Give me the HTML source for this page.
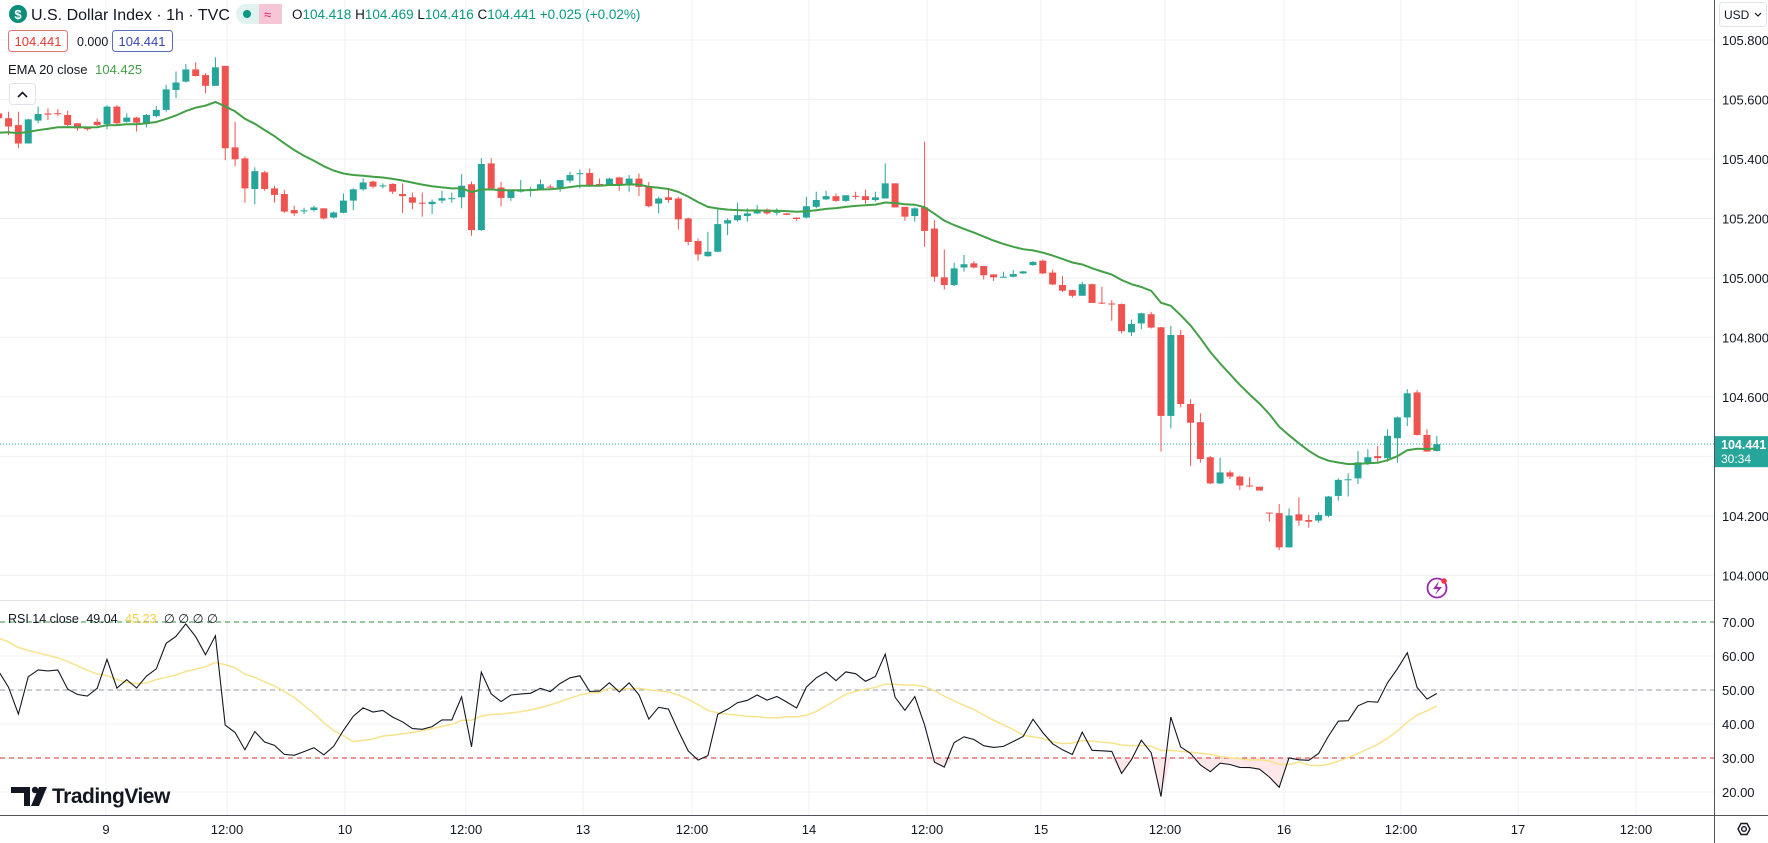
<!DOCTYPE html>
<html><head><meta charset="utf-8">
<style>
html,body{margin:0;padding:0;background:#fff;width:1768px;height:843px;overflow:hidden}
svg{display:block;font-family:"Liberation Sans",sans-serif}
</style></head>
<body>
<svg id="chart" width="1768" height="843" viewBox="0 0 1768 843" xmlns="http://www.w3.org/2000/svg">
  <rect x="0" y="0" width="1768" height="843" fill="#ffffff"/>
  <g id="grid"></g>
  <g id="rsiPane"></g>
  <g id="pricePane"></g>
  <g id="axes"></g>
  <g>
    <circle cx="18" cy="14" r="9" fill="#0b8d79"/>
    <text x="18" y="19" font-size="13" font-weight="bold" fill="#fff" text-anchor="middle">$</text>
    <text x="31" y="20" font-size="16" fill="#131722">U.S. Dollar Index · 1h · TVC</text>
    <rect x="236" y="4" width="46" height="20" rx="10" fill="#e0f3f0"/>
    <rect x="259" y="4" width="23" height="20" rx="0" fill="#f7c6d6"/>
    <rect x="270" y="4" width="12" height="20" rx="10" fill="#f7c6d6"/>
    <circle cx="247" cy="14" r="4" fill="#089981"/>
    <text x="264" y="19" font-size="13" fill="#d81b60">≈</text>
    <text x="292" y="19" font-size="13.5" fill="#131722">O<tspan fill="#089981">104.418</tspan> H<tspan fill="#089981">104.469</tspan> L<tspan fill="#089981">104.416</tspan> C<tspan fill="#089981">104.441</tspan> <tspan fill="#089981">+0.025 (+0.02%)</tspan></text>
    <rect x="8.5" y="30.5" width="59" height="21" rx="3" fill="#fff" stroke="#e57373"/>
    <text x="38" y="46" font-size="13" fill="#e53935" text-anchor="middle">104.441</text>
    <text x="77" y="46" font-size="12.5" fill="#131722">0.000</text>
    <rect x="112.5" y="30.5" width="60" height="21" rx="3" fill="#fff" stroke="#5c6bc0"/>
    <text x="142" y="46" font-size="13" fill="#3949ab" text-anchor="middle">104.441</text>
    <text x="8" y="74" font-size="13" fill="#131722">EMA 20 close <tspan fill="#43a047" dx="4">104.425</tspan></text>
    <rect x="9.5" y="83.5" width="26" height="21" rx="3" fill="#fff" stroke="#e0e3eb"/>
    <path d="M18 97 L22.5 92.5 L27 97" fill="none" stroke="#131722" stroke-width="1.6"/>
  </g>
  <rect x="1719.5" y="2.5" width="47" height="24" rx="3" fill="#fff" stroke="#e0e3eb"/>
  <text x="1724" y="19" font-size="12" fill="#131722">USD</text>
  <path d="M1755 13 L1758 16 L1761 13" fill="none" stroke="#131722" stroke-width="1.2"/>
  <g>
    <path d="M11 787 H30 V806 H24 V793 H11 Z" fill="#131722"/>
    <circle cx="35" cy="790" r="3.2" fill="#131722"/>
    <path d="M39 787 H47 L39 806 H31 Z" fill="#131722"/>
    <text x="52" y="803" font-size="21" font-weight="bold" fill="#131722" letter-spacing="-0.5">TradingView</text>
  </g>
  <g>
    <circle cx="1437" cy="588" r="9.5" fill="none" stroke="#9c27b0" stroke-width="1.8"/>
    <path d="M1439 581 L1433 589 H1438 L1435 595 L1442 587 H1437 Z" fill="#9c27b0"/>
    <circle cx="1444" cy="581" r="2.8" fill="#f23645"/>
  </g>
  <g>
    <path d="M1738 829 L1741 823.5 H1747 L1750 829 L1747 834.5 H1741 Z" fill="none" stroke="#131722" stroke-width="1.4"/>
    <circle cx="1744" cy="829" r="2.3" fill="none" stroke="#131722" stroke-width="1.4"/>
  </g>
</svg>
<script>
const opens=[105.553,105.537,105.514,105.452,105.529,105.553,105.554,105.548,105.520,105.506,
105.525,105.517,105.576,105.525,105.539,105.520,105.544,105.565,105.632,105.660,
105.701,105.682,105.646,105.713,105.439,105.402,105.299,105.355,105.301,105.282,
105.228,105.225,105.228,105.234,105.203,105.219,105.260,105.298,105.324,105.309,
105.316,105.282,105.271,105.253,105.248,105.260,105.266,105.271,105.315,105.161,
105.385,105.304,105.269,105.290,105.297,105.297,105.307,105.304,105.327,105.350,
105.353,105.316,105.312,105.338,105.315,105.334,105.309,105.250,105.271,105.267,
105.200,105.124,105.073,105.088,105.183,105.194,105.208,105.217,105.230,105.219,
105.217,105.203,105.203,105.239,105.264,105.275,105.259,105.276,105.275,105.262,
105.267,105.318,105.239,105.208,105.237,105.166,105.002,104.976,105.035,105.049,
105.040,105.012,105.003,105.004,105.015,105.043,105.058,105.018,104.976,104.959,
104.940,104.979,104.917,104.914,104.912,104.817,104.847,104.878,104.834,104.536,
104.808,104.576,104.515,104.397,104.309,104.346,104.332,104.302,104.298,104.211,
104.209,104.094,104.205,104.186,104.184,104.200,104.267,104.321,104.326,104.377,
104.401,104.394,104.461,104.531,104.615,104.472,104.418];
const highs=[105.559,105.559,105.559,105.535,105.576,105.570,105.568,105.562,105.520,105.508,
105.536,105.581,105.581,105.553,105.542,105.551,105.578,105.649,105.694,105.719,
105.725,105.688,105.742,105.713,105.525,105.408,105.372,105.360,105.310,105.296,
105.242,105.236,105.243,105.234,105.223,105.284,105.301,105.335,105.327,105.318,
105.318,105.318,105.287,105.287,105.264,105.293,105.287,105.349,105.324,105.402,
105.402,105.323,105.297,105.329,105.306,105.331,105.314,105.329,105.357,105.365,
105.368,105.334,105.337,105.340,105.346,105.351,105.323,105.273,105.297,105.273,
105.203,105.133,105.155,105.234,105.200,105.253,105.234,105.245,105.234,105.234,
105.218,105.203,105.273,105.290,105.293,105.284,105.278,105.290,105.297,105.290,
105.385,105.318,105.239,105.237,105.458,105.194,105.096,105.051,105.077,105.056,
105.040,105.012,105.021,105.026,105.023,105.056,105.062,105.028,105.006,104.961,
104.987,104.981,104.970,104.925,104.914,104.860,104.883,104.886,104.836,104.839,
104.825,104.592,104.545,104.401,104.396,104.352,104.335,104.330,104.298,104.211,
104.240,104.225,104.262,104.203,104.212,104.267,104.326,104.343,104.418,104.424,
104.435,104.491,104.534,104.626,104.623,104.491,104.469];
const lows=[105.531,105.480,105.436,105.452,105.520,105.531,105.544,105.511,105.495,105.495,
105.511,105.500,105.514,105.522,105.492,105.506,105.540,105.559,105.604,105.657,
105.677,105.621,105.646,105.396,105.376,105.253,105.247,105.293,105.253,105.219,
105.209,105.215,105.223,105.197,105.200,105.217,105.228,105.293,105.301,105.301,
105.282,105.219,105.231,105.206,105.215,105.251,105.253,105.234,105.142,105.158,
105.297,105.241,105.259,105.287,105.273,105.295,105.297,105.290,105.320,105.301,
105.306,105.309,105.309,105.293,105.290,105.275,105.237,105.217,105.253,105.163,
105.110,105.058,105.071,105.086,105.144,105.189,105.189,105.214,105.213,105.210,
105.211,105.192,105.200,105.234,105.262,105.256,105.256,105.264,105.250,105.256,
105.267,105.237,105.192,105.189,105.105,104.987,104.961,104.972,105.021,105.032,
104.995,104.990,105.002,105.002,105.014,105.041,105.013,104.976,104.953,104.934,
104.940,104.916,104.912,104.856,104.813,104.805,104.827,104.830,104.416,104.494,
104.565,104.368,104.379,104.307,104.307,104.324,104.287,104.296,104.285,104.181,
104.085,104.094,104.167,104.160,104.177,104.195,104.251,104.265,104.307,104.371,
104.377,104.382,104.379,104.502,104.470,104.416,104.416];
const closes=[105.537,105.509,105.452,105.533,105.551,105.549,105.551,105.514,105.503,105.500,
105.514,105.576,105.520,105.539,105.522,105.548,105.565,105.634,105.657,105.701,
105.679,105.646,105.708,105.436,105.399,105.301,105.359,105.299,105.279,105.223,
105.217,105.227,105.237,105.200,105.220,105.260,105.298,105.321,105.307,105.311,
105.290,105.275,105.253,105.251,105.256,105.268,105.268,105.310,105.161,105.383,
105.301,105.269,105.293,105.297,105.299,105.315,105.305,105.329,105.346,105.352,
105.312,105.313,105.334,105.312,105.334,105.306,105.241,105.267,105.262,105.197,
105.121,105.079,105.088,105.181,105.194,105.211,105.217,105.230,105.217,105.225,
105.212,105.198,105.241,105.262,105.275,105.259,105.278,105.275,105.262,105.271,
105.318,105.237,105.206,105.234,105.158,105.004,104.976,105.032,105.046,105.035,
105.009,105.002,105.004,105.013,105.022,105.054,105.015,104.978,104.957,104.940,
104.979,104.916,104.914,104.912,104.821,104.845,104.881,104.833,104.536,104.808,
104.576,104.513,104.391,104.309,104.346,104.332,104.302,104.300,104.285,104.210,
104.094,104.201,104.184,104.180,104.203,104.265,104.321,104.323,104.380,104.397,
104.394,104.469,104.531,104.612,104.472,104.416,104.441];
const emaSeed=105.483;
const rsiSeedGain=0.014, rsiSeedLoss=0.010, rsiMaSeed=66;
const rsiLegendValues=["49.04","45.23"];
const priceTicks=[105.8,105.6,105.4,105.2,105.0,104.8,104.6,104.4,104.2,104.0];
const priceTickLabels=["105.800","105.600","105.400","105.200","105.000","104.800","104.600","104.400","104.200","104.000"];
const rsiTicks=[70,60,50,40,30,20];
const rsiTickLabels=["70.00","60.00","50.00","40.00","30.00","20.00"];
const timeLabels=["9","12:00","10","12:00","13","12:00","14","12:00","15","12:00","16","12:00","17","12:00"];
const lastPrice=104.441, lastPriceLabel="104.441", countdown="30:34";

const NS="http://www.w3.org/2000/svg";
const PANE_R=1714;
function xOf(i){return -1.3+i*9.85;}
function yP(p){return 40+(105.8-p)*297.4;}
function yR(v){return 622+(70-v)*3.4;}
function mk(tag,attrs,parent){const e=document.createElementNS(NS,tag);for(const k in attrs)e.setAttribute(k,attrs[k]);parent.appendChild(e);return e;}
const grid=document.getElementById('grid'),pp=document.getElementById('pricePane'),rp=document.getElementById('rsiPane'),ax=document.getElementById('axes');

const timeXs=[106,227,345,466,583,692,809,927,1041,1165,1284,1401,1518,1636];
timeLabels.forEach((t,k)=>{
  const x=timeXs[k];
  const l=mk('line',{x1:x,x2:x,y1:0,y2:815,stroke:'#eef0f3','stroke-width':1},grid);
  
  
  const tx=mk('text',{x:x,y:834,'font-size':13,fill:'#131722','text-anchor':'middle'},ax);
  tx.textContent=t;
  
  
});
priceTicks.forEach((p,k)=>{
  const y=yP(p);
  const l=mk('line',{x1:0,x2:PANE_R,y1:y,y2:y,stroke:'#eef0f3','stroke-width':1},grid);
  
  
  const tx=mk('text',{x:1722,y:y+5,'font-size':13,fill:'#131722'},ax);
  tx.textContent=priceTickLabels[k];
  
  
});
rsiTicks.forEach((v,k)=>{
  const y=yR(v);
  const l=mk('line',{x1:0,x2:PANE_R,y1:y,y2:y,stroke:'#eef0f3','stroke-width':1},grid);
  
  
  const tx=mk('text',{x:1722,y:y+5,'font-size':13,fill:'#131722'},ax);
  tx.textContent=rsiTickLabels[k];
  
  
});
[[70,'#388e3c'],[50,'#9598a1'],[30,'#d32f2f']].forEach(([v,c])=>{
  const l=mk('line',{x1:0,x2:PANE_R,y1:yR(v),y2:yR(v),stroke:c,'stroke-width':1,'stroke-dasharray':'5,4'},rp);
  
  
});

for(let i=0;i<closes.length;i++){
  const up=closes[i]>=opens[i];
  const col=up?'#26a69a':'#ef5350';
  const x=xOf(i);
  const w=mk('line',{x1:x,x2:x,y1:yP(highs[i]),y2:yP(lows[i]),stroke:col,'stroke-width':1},pp);
  
  
  const top=yP(Math.max(opens[i],closes[i])),bot=yP(Math.min(opens[i],closes[i]));
  const b=mk('rect',{x:x-3.5,y:top,width:7,height:Math.max(1,bot-top),fill:col},pp);
  
  
}
const ema=[];let e=emaSeed;const a=2/21;
closes.forEach((c,i)=>{e=i===0?emaSeed+(c-emaSeed)*a:e+(c-e)*a;ema.push(e);});
const emaPath=mk('path',{d:ema.map((v,i)=>(i?'L':'M')+xOf(i).toFixed(1)+' '+yP(v).toFixed(1)).join(' '),fill:'none',stroke:'#43a047','stroke-width':2},pp);


const ly=yP(lastPrice);
const lpl=mk('line',{x1:0,x2:PANE_R,y1:ly,y2:ly,stroke:'#26a69a','stroke-width':1,'stroke-dasharray':'1,2'},pp);


const lpb=mk('rect',{x:1715,y:ly-8,width:53,height:31,fill:'#26a69a'},ax);


const lpt=mk('text',{x:1721,y:ly+5,'font-size':12.5,'font-weight':'bold',fill:'#fff'},ax);
lpt.textContent=lastPriceLabel;
const cdt=mk('text',{x:1721,y:ly+19,'font-size':12,fill:'#fff'},ax);
cdt.textContent=countdown;

const rsi=[];let ag=rsiSeedGain,al=rsiSeedLoss;
for(let i=0;i<closes.length;i++){
  const prev=i===0?opens[0]:closes[i-1];
  const d=closes[i]-prev;
  ag=(ag*13+Math.max(d,0))/14; al=(al*13+Math.max(-d,0))/14;
  rsi.push(100-100/(1+ag/al));
}
const rsiMa=rsi.map((v,i)=>{let s=0;for(let k=i-13;k<=i;k++)s+=k<0?rsiMaSeed:rsi[k];return s/14;});
let fillD='';
for(let i=1;i<rsi.length;i++){
  if(rsi[i]<30||rsi[i-1]<30){
    fillD+='M'+xOf(i-1)+' '+yR(30)+' L'+xOf(i-1)+' '+yR(Math.min(30,rsi[i-1]))+' L'+xOf(i)+' '+yR(Math.min(30,rsi[i]))+' L'+xOf(i)+' '+yR(30)+' Z ';
  }
}
if(fillD){const f=mk('path',{d:fillD,fill:'rgba(242,54,69,0.12)'},rp);}
const maP=mk('path',{d:rsiMa.map((v,i)=>(i?'L':'M')+xOf(i).toFixed(1)+' '+yR(v).toFixed(1)).join(' '),fill:'none',stroke:'#f8e38c','stroke-width':1.5},rp);


const rP=mk('path',{d:rsi.map((v,i)=>(i?'L':'M')+xOf(i).toFixed(1)+' '+yR(v).toFixed(1)).join(' '),fill:'none',stroke:'#131722','stroke-width':1.1},rp);


const rl=mk('text',{x:8,y:623,'font-size':12.5,fill:'#131722'},rp);
rl.innerHTML='RSI 14 close <tspan dx="4">'+rsiLegendValues[0]+'</tspan> <tspan dx="4" fill="#f2d04a">'+rsiLegendValues[1]+'</tspan> <tspan dx="4">∅ ∅ ∅ ∅</tspan>';



const s1=mk('line',{x1:0,x2:PANE_R,y1:600.5,y2:600.5,stroke:'#e0e3eb','stroke-width':1},ax);


const s2=mk('line',{x1:PANE_R+0.5,x2:PANE_R+0.5,y1:0,y2:843,stroke:'#50535e','stroke-width':1},ax);


const s3=mk('line',{x1:0,x2:1768,y1:815.5,y2:815.5,stroke:'#50535e','stroke-width':1},ax);


</script>
</body></html>
